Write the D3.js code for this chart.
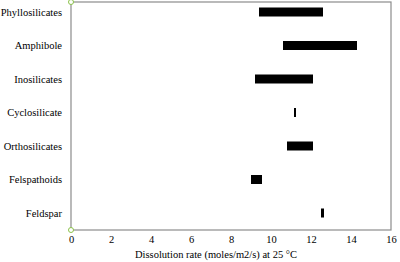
<!DOCTYPE html>
<html>
<head>
<meta charset="utf-8">
<script src="https://cdn.jsdelivr.net/npm/d3@7"></script>
<style>
  body { margin: 0; background: #fff; }
  text { font-family: "Liberation Serif", "Times New Roman", serif; fill: #000; }
</style>
</head>
<body>
<div id="chart"></div>
<script>
const categories = ['Phyllosilicates', 'Amphibole', 'Inosilicates', 'Cyclosilicate',
  'Orthosilicates', 'Felspathoids', 'Feldspar'];
const rateMin = [9.4, 10.6, 9.2, 11.15, 10.8, 9.0, 12.5];
const rateMax = [12.6, 14.3, 12.1, 11.25, 12.1, 9.55, 12.65];
const xTicks = [0, 2, 4, 6, 8, 10, 12, 14, 16];

const width = 400, height = 262;
const margin = { top: 2, right: 9, bottom: 32, left: 71 };

const svg = d3.select('#chart').append('svg')
  .attr('width', width)
  .attr('height', height);

const x = d3.scaleLinear()
  .domain([0, 16])
  .range([margin.left, width - margin.right]);

const y = d3.scalePoint()
  .domain(categories)
  .range([margin.top + 10, height - margin.bottom - 17]);

// frame
svg.append('rect')
  .attr('x', margin.left)
  .attr('y', margin.top)
  .attr('width', width - margin.right - margin.left)
  .attr('height', height - margin.bottom - margin.top)
  .attr('fill', 'none')
  .attr('stroke', '#8c8c8c')
  .attr('stroke-width', 1.2);

// range bars
svg.append('g')
  .selectAll('rect')
  .data(categories)
  .join('rect')
  .attr('x', (d, i) => x(rateMin[i]))
  .attr('width', (d, i) => Math.max(1.5, x(rateMax[i]) - x(rateMin[i])))
  .attr('y', d => y(d) - 4.5)
  .attr('height', 9)
  .attr('fill', '#000');

// category labels
svg.append('g')
  .selectAll('text')
  .data(categories)
  .join('text')
  .attr('x', margin.left - 9)
  .attr('y', d => y(d))
  .attr('dy', '0.35em')
  .attr('text-anchor', 'end')
  .style('font-size', '10.5px')
  .text(d => d);

// x tick labels
const xAxis = svg.append('g')
  .attr('transform', `translate(0,${height - margin.bottom})`)
  .call(d3.axisBottom(x).tickValues(xTicks).tickSize(0).tickPadding(6));
xAxis.select('.domain').remove();
xAxis.selectAll('text')
  .style('font-family', '"Liberation Serif", serif')
  .style('font-size', '10.5px')
  .attr('fill', '#000');

svg.append('text')
  .attr('x', 216)
  .attr('y', 258)
  .attr('text-anchor', 'middle')
  .style('font-size', '10.5px')
  .text('Dissolution rate (moles/m2/s) at 25 °C');

// selection handles at the axis corners
svg.append('g')
  .selectAll('circle')
  .data([margin.top, height - margin.bottom])
  .join('circle')
  .attr('cx', margin.left)
  .attr('cy', d => d)
  .attr('r', 2.5)
  .attr('fill', '#fff')
  .attr('stroke', '#8bc34a')
  .attr('stroke-width', 1);
</script>
</body>
</html>
